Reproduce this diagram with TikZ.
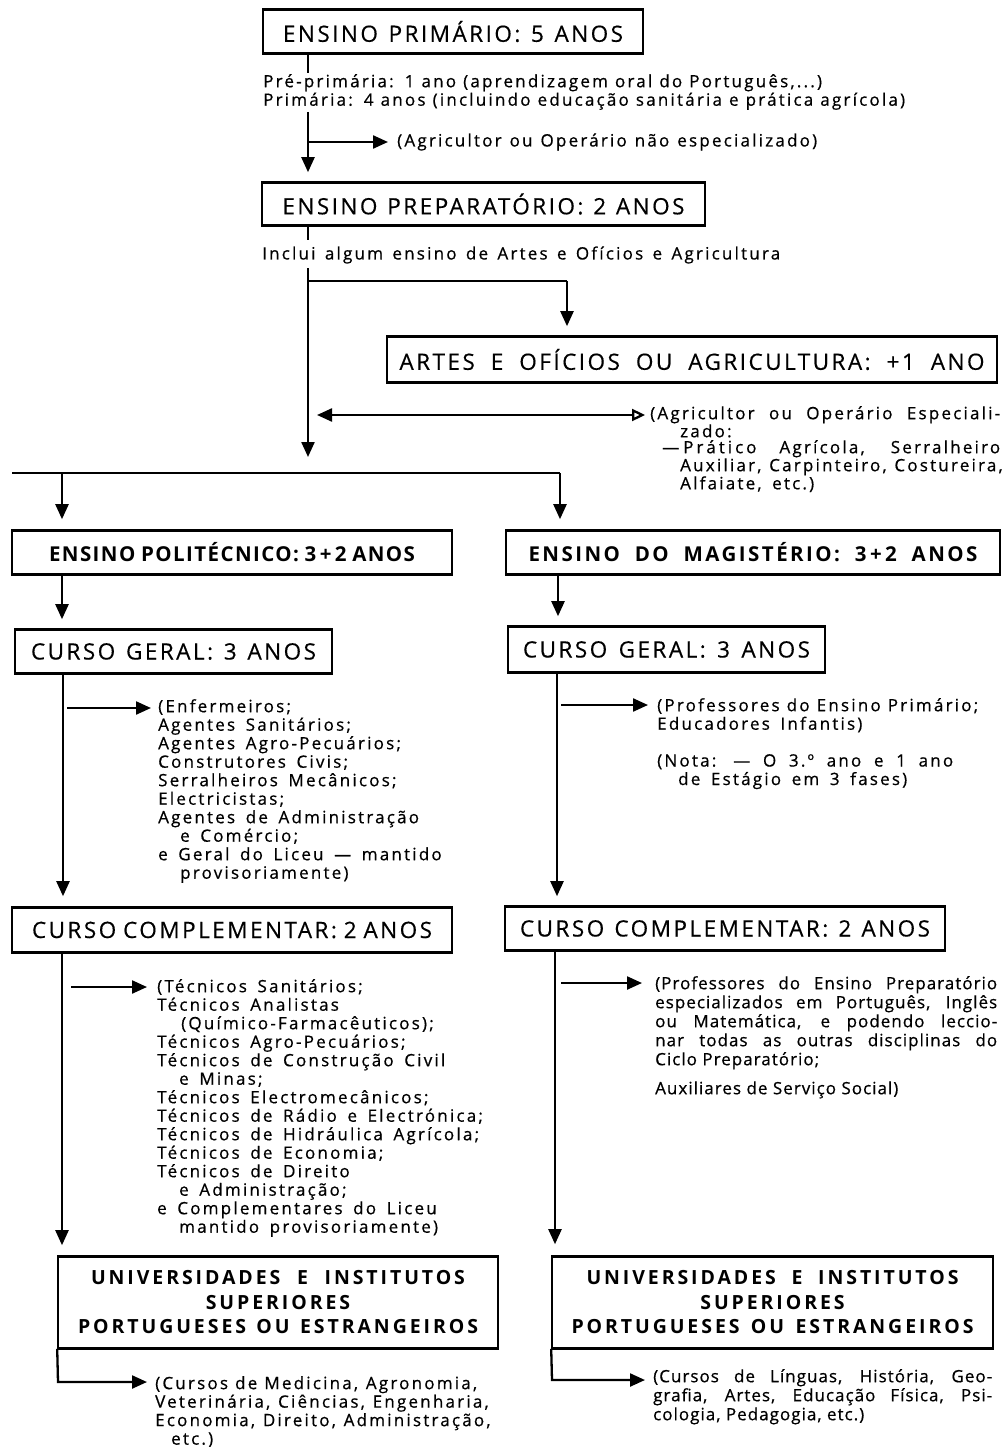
\documentclass[tikz,border=0pt]{standalone}
\usepackage{fontspec}
\setmainfont{Open Sans}
\newfontfamily\notefam[WordSpace=1.6,LetterSpace=13,FakeBold=0.6]{Open Sans}
\newfontfamily\justfam[LetterSpace=6,FakeBold=0.6]{Open Sans}
\newfontfamily\boxfam[LetterSpace=11,FakeBold=0.4]{Open Sans}
\newfontfamily\heavyfam[LetterSpace=7]{Open Sans}
\newfontfamily\wideheavyfam[LetterSpace=12]{Open Sans}
\newfontfamily\unifam[LetterSpace=15]{Open Sans}
\usetikzlibrary{arrows.meta}
\newcommand\boxfont{\boxfam\fontsize{22.5}{26}\selectfont}
\newcommand\heavyfont{\heavyfam\bfseries\fontsize{20.5}{24}\selectfont}
\newcommand\wideheavyfont{\wideheavyfam\bfseries\fontsize{20.5}{24}\selectfont}
\newcommand\unifont{\unifam\bfseries\fontsize{19.5}{24.5}\selectfont}
\newcommand\notefont{\notefam\fontsize{17}{18.5}\selectfont}
\newcommand\justfont{\justfam\fontsize{17}{19}\selectfont}
\newcommand\tightfont{\notefam\fontsize{17}{16}\selectfont}
\newcommand\jline[2]{\makebox[#1][s]{#2}}
\newcommand\rims[1]{\draw[rim] (#1.north west) -- (#1.north east) (#1.south west) -- (#1.south east);}
\begin{document}
\begin{tikzpicture}[x=1pt,y=-1pt,
  cbox/.style={draw, line width=1.6pt, inner sep=0pt, font=\boxfont},
  bbox/.style={draw, line width=1.6pt, inner sep=0pt, font=\heavyfont},
  ubox/.style={draw, line width=1.6pt, inner sep=0pt, font=\unifont, align=center},
  rim/.style={line width=3pt},
  conn/.style={line width=2.3pt},
  arr/.style={conn, -{Triangle[length=15pt,width=13pt]}},
  txt/.style={inner sep=0pt, anchor=north west, align=left, font=\notefont},
]
\useasboundingbox (0,0) rectangle (1003,1447);
\fill[white] (0,0) rectangle (1003,1447);

% ---------- boxes
\node[cbox, minimum width=380pt, minimum height=43pt] (b1) at (453,31.5) {\jline{340pt}{ENSINO PRIMÁRIO: 5 ANOS}};
\node[cbox, minimum width=443pt, minimum height=42pt] (b2) at (483.5,204) {\jline{402pt}{ENSINO PREPARATÓRIO: 2 ANOS}};
\node[cbox, minimum width=610pt, minimum height=45pt] (b3) at (692,359.5) {\jline{585pt}{ARTES E OFÍCIOS OU AGRICULTURA: +1 ANO}};
\node[bbox, minimum width=440pt, minimum height=43pt] (b4) at (232,552.5) {\jline{366pt}{ENSINO POLITÉCNICO: 3\,+\,2 ANOS}};
\node[bbox, font=\wideheavyfont, minimum width=494pt, minimum height=43pt] (b5) at (753,552.5) {\jline{449pt}{ENSINO DO MAGISTÉRIO: 3\,+\,2 ANOS}};
\node[cbox, minimum width=317pt, minimum height=43pt] (b6) at (173.5,651.5) {\jline{285pt}{CURSO GERAL: 3 ANOS}};
\node[cbox, minimum width=317pt, minimum height=45pt] (b7) at (666.5,649.5) {\jline{287pt}{CURSO GERAL: 3 ANOS}};
\node[cbox, minimum width=440pt, minimum height=44pt] (b8) at (232,930) {\jline{400pt}{CURSO COMPLEMENTAR: 2 ANOS}};
\node[cbox, minimum width=440pt, minimum height=43pt] (b9) at (725,928.5) {\jline{410pt}{CURSO COMPLEMENTAR: 2 ANOS}};
\node[ubox, minimum width=440pt, minimum height=91pt] (b10) at (278,1302.5) {\jline{374pt}{UNIVERSIDADES E INSTITUTOS}\\SUPERIORES\\\jline{400pt}{PORTUGUESES OU ESTRANGEIROS}};
\node[ubox, minimum width=441pt, minimum height=91pt] (b11) at (772.5,1302.5) {\jline{372pt}{UNIVERSIDADES E INSTITUTOS}\\SUPERIORES\\\jline{402pt}{PORTUGUESES OU ESTRANGEIROS}};
\foreach \b in {b1,b2,b3,b4,b5,b6,b7,b8,b9,b10,b11} {\rims{\b}}

% ---------- texts
\node[txt] (t1) at (263,74) {\jline{557pt}{Pré-primária: 1 ano (aprendizagem oral do Português,...)}\\\jline{637pt}{Primária: 4 anos (incluindo educação sanitária e prática agrícola)}};
\node[txt, anchor=west] (n1) at (397,142) {\jline{420pt}{(Agricultor ou Operário não especializado)}};
\node[txt, anchor=west] (t2) at (262,255) {\jline{518pt}{Inclui algum ensino de Artes e Ofícios e Agricultura}};
\node[txt, font=\tightfont] (n2) at (650,406) {\jline{350pt}{(Agricultor ou Operário Especiali-}\\
\hspace*{30pt}zado:\\
\hspace*{12pt}\jline{338pt}{—\kern4pt P\kern3pt r\kern3pt á\kern3pt t\kern3pt i\kern3pt c\kern3pt o Agrícola, Serralheiro}\\
\hspace*{30pt}\jline{320pt}{Auxiliar, Carpinteiro, Costureira,}\\
\hspace*{30pt}Alfaiate, etc.)};
\node[txt] (n3) at (158,699) {(Enfermeiros;\\
Agentes Sanitários;\\
Agentes Agro-Pecuários;\\
Construtores Civis;\\
Serralheiros Mecânicos;\\
Electricistas;\\
Agentes de Administração\\
\hspace*{22pt}e Comércio;\\
e Geral do Liceu — mantido\\
\hspace*{22pt}provisoriamente)};
\node[txt] (n4) at (657,698) {\jline{318pt}{(Professores do Ensino Primário;}\\Educadores Infantis)};
\node[txt] (n5) at (657,754) {\jline{296pt}{(Nota: — O 3.º ano e 1 ano}\\\hspace*{21pt}de Estágio em 3 fases)};
\node[txt] (n6) at (157,979) {(Técnicos Sanitários;\\
Técnicos Analistas\\
\hspace*{24pt}(Químico-Farmacêuticos);\\
Técnicos Agro-Pecuários;\\
Técnicos de Construção Civil\\
\hspace*{22pt}e Minas;\\
Técnicos Electromecânicos;\\
Técnicos de Rádio e Electrónica;\\
Técnicos de Hidráulica Agrícola;\\
Técnicos de Economia;\\
Técnicos de Direito\\
\hspace*{22pt}e Administração;\\
e Complementares do Liceu\\
\hspace*{22pt}mantido provisoriamente)};
\node[txt, font=\justfont] (n7) at (655,976) {\jline{342pt}{(Professores do Ensino Preparatório}\\
\jline{342pt}{especializados em Português, Inglês}\\
\jline{342pt}{ou Matemática, e podendo leccio-}\\
\jline{342pt}{nar todas as outras disciplinas do}\\
Ciclo Preparatório;\\[10pt]
Auxiliares de Serviço Social)};
\node[txt] (n9) at (155,1376) {\jline{320pt}{(Cursos de Medicina, Agronomia,}\\
\jline{320pt}{Veterinária, Ciências, Engenharia,}\\
\jline{320pt}{Economia, Direito, Administração,}\\
\hspace*{16pt}etc.)};
\node[txt, font=\justfont] (n10) at (653,1369) {\jline{339pt}{(Cursos de Línguas, História, Geo-}\\
\jline{339pt}{grafia, Artes, Educação Física, Psi-}\\
cologia, Pedagogia, etc.)};

% ---------- connectors
\coordinate (k1) at (308,73);
\draw[conn] (b1.south -| k1) -- (k1);
\coordinate (k2) at (308,112);
\draw[arr, shorten >=10pt] (k2) -- (b2.north -| k2);
\coordinate (k3) at (308,142);
\draw[arr, shorten >=9pt] (k3) -- (k3 -| n1.west);
\coordinate (k4) at (308,240);
\draw[conn] (b2.south -| k4) -- (k4);
\coordinate (k5) at (308,268);
\coordinate (k6) at (308,473);
\draw[arr, shorten >=16pt] (k5) -- (k6);
\coordinate (k7) at (308,281);
\coordinate (k8) at (567,281);
\draw[conn] (k7) -- (k8);
\draw[arr, shorten >=10pt] (k8) -- (b3.north -| k8);
\coordinate (k9) at (308,415);
\draw[conn, {Triangle[length=15pt,width=13pt]}-{Triangle[open,length=13pt,width=12pt]}, shorten <=9pt, shorten >=5pt] (k9) -- (k9 -| n2.west);

\coordinate (h1) at (12,473);
\coordinate (h2) at (560,473);
\draw[conn] (h1) -- (h2);
\coordinate (q1) at (62,473);
\draw[arr, shorten >=11pt] (q1) -- (b4.north -| q1);
\draw[arr, shorten >=11pt] (h2) -- (b5.north -| h2);
\coordinate (q2) at (62,600);
\draw[arr, shorten >=10pt] (b4.south -| q2) -- (b6.north -| q2);
\coordinate (q3) at (558,600);
\draw[arr, shorten >=10pt] (b5.south -| q3) -- (b7.north -| q3);

\coordinate (q4) at (63,708);
\draw[arr, shorten >=11pt] (b6.south -| q4) -- (b8.north -| q4);
\draw[arr, shorten <=4pt, shorten >=7pt] (q4) -- (q4 -| n3.west);
\coordinate (q5) at (557,705);
\draw[arr, shorten >=10pt] (b7.south -| q5) -- (b9.north -| q5);
\draw[arr, shorten <=4pt, shorten >=9pt] (q5) -- (q5 -| n4.west);

\coordinate (q6) at (62,987);
\draw[arr, shorten >=11pt] (b8.south -| q6) -- (b10.north -| q6);
\draw[arr, shorten <=9pt, shorten >=10pt] (q6) -- (q6 -| n6.west);
\coordinate (q7) at (555,983);
\draw[arr, shorten >=12pt] (b9.south -| q7) -- (b11.north -| q7);
\draw[arr, shorten <=6pt, shorten >=13pt] (q7) -- (q7 -| n7.west);

\coordinate (q8) at (58,1382);
\draw[arr, shorten >=8pt] (b10.south west) -- (q8) -- (q8 -| n9.west);
\coordinate (q9) at (552,1380);
\draw[arr, shorten >=8pt] (b11.south west) -- (q9) -- (q9 -| n10.west);
\end{tikzpicture}
\end{document}
